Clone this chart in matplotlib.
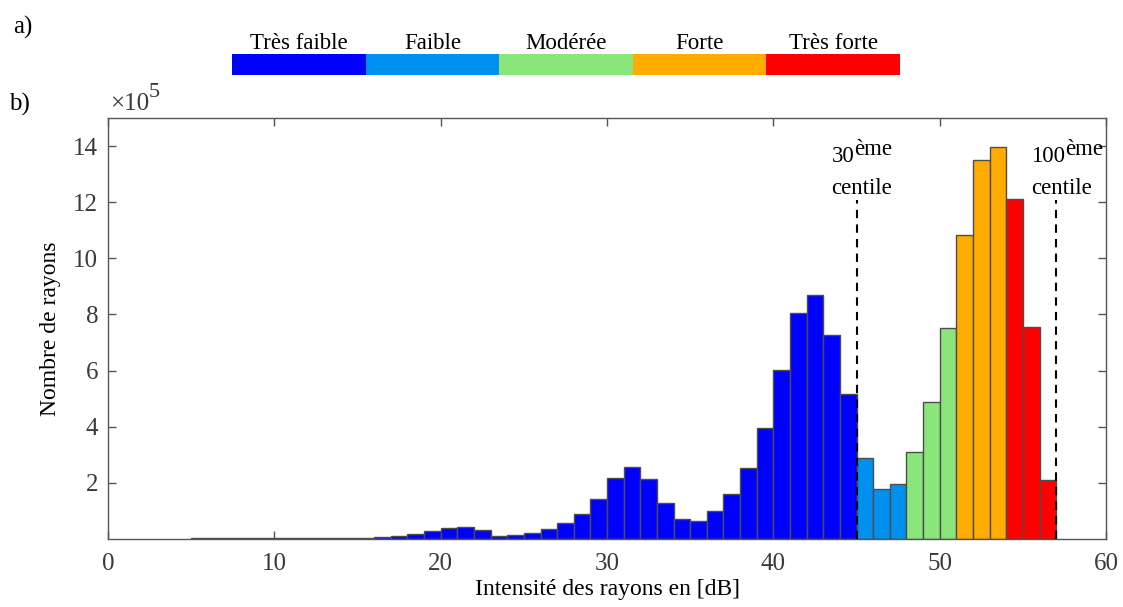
import matplotlib.pyplot as plt
import numpy as np

plt.rcParams['font.family'] = ['Liberation Serif', 'DejaVu Serif']

# histogram: left bin edges (dB) and counts (x1e5)
bin_left = list(range(5, 57))
counts = [0.03, 0.02, 0.02, 0.01, 0.01, 0.01, 0.01, 0.03, 0.03, 0.03, 0.02, 0.05,
          0.10, 0.17, 0.28, 0.39, 0.43, 0.31, 0.11, 0.13, 0.21, 0.36, 0.57, 0.88,
          1.42, 2.16, 2.57, 2.13, 1.29, 0.69, 0.64, 1.00, 1.60, 2.51, 3.96, 6.03,
          8.05, 8.70, 7.27, 5.16, 2.87, 1.76, 1.95, 3.11, 4.89, 7.51, 10.82, 13.52,
          13.98, 12.13, 7.54, 2.10]

# classes: name, upper edge (dB), colour
class_names = ['Très faible', 'Faible', 'Modérée', 'Forte', 'Très forte']
class_upper = [45, 48, 51, 54, 57]
class_colors = ['#0000ff', '#0091f0', '#8ae57a', '#ffab00', '#ff0000']

centile_x = [45, 57]
centile_num = ['30', '100']

bar_colors = []
for b in bin_left:
    for up, c in zip(class_upper, class_colors):
        if b < up:
            bar_colors.append(c)
            break

fig = plt.figure(figsize=(11.23, 6.07), dpi=100)
ax = fig.add_axes([0.0962, 0.1125, 0.8887, 0.6926])

ax.bar(bin_left, counts, width=1.0, align='edge', color=bar_colors,
       edgecolor='#4d4d4d', linewidth=1.0, zorder=2)

for x, n in zip(centile_x, centile_num):
    ax.plot([x, x], [0, 12.1], ls=(0, (4, 3)), color='black', lw=1.5, zorder=3)
    t = ax.text(x - 1.5, 13.45, n, fontsize=16.5, ha='left', va='baseline')
    ax.annotate('ème', xy=(1, 0.58), xycoords=t, fontsize=16.5,
                ha='left', va='baseline')
    ax.text(x - 1.5, 12.3, 'centile', fontsize=16.5, ha='left', va='baseline')

ax.set_xlim(0, 60)
ax.set_ylim(0, 15)
ax.set_xticks(range(0, 61, 10))
ax.set_yticks(range(2, 15, 2))
ax.tick_params(direction='in', top=True, right=True, length=6, width=1,
               color='#555555', labelcolor='#3a3a3a', labelsize=18)
ax.tick_params(axis='x', pad=10)
ax.tick_params(axis='y', pad=7)
for s in ax.spines.values():
    s.set_color('#555555')
    s.set_linewidth(1)
ax.set_xlabel('Intensité des rayons en [dB]', fontsize=17, labelpad=3)
ax.set_ylabel('Nombre de rayons', fontsize=17, labelpad=9)

m = fig.text(0.098, 0.818, '×10', fontsize=18, color='#3a3a3a')
ax.annotate('5', xy=(1, 0.6), xycoords=m, fontsize=16, color='#3a3a3a',
            ha='left', va='bottom', annotation_clip=False)

# colour scale a)
cax = fig.add_axes([0.2066, 0.8764, 0.5948, 0.0346])
cax.bar(range(len(class_names)), [1] * len(class_names), width=1.0,
        align='edge', color=class_colors)
for i, name in enumerate(class_names):
    cax.text(i + 0.5, 1.02, name, ha='center', va='bottom', fontsize=16.5)
cax.set_xlim(0, len(class_names))
cax.set_ylim(0, 1)
cax.axis('off')

fig.text(0.012, 0.945, 'a)', fontsize=18)
fig.text(0.008, 0.818, 'b)', fontsize=18)

fig.savefig('out.png', dpi=100)
